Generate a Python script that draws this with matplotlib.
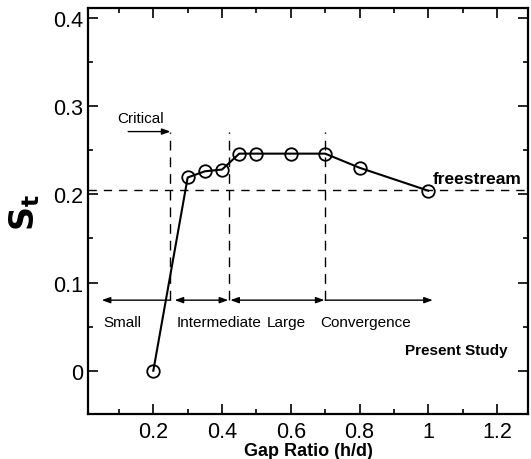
import matplotlib
matplotlib.use("Agg")
import matplotlib.pyplot as plt
from matplotlib.ticker import MultipleLocator

plt.rcParams['font.family'] = ['Liberation Sans', 'DejaVu Sans']

gap_ratio = [0.2, 0.3, 0.35, 0.4, 0.45, 0.5, 0.6, 0.7, 0.8, 1.0]
strouhal = [0.0, 0.219, 0.226, 0.228, 0.246, 0.246, 0.246, 0.246, 0.230, 0.204]
freestream = 0.205
regime_bounds = [0.25, 0.42, 0.70]
regime_names = ["Small", "Intermediate", "Large", "Convergence"]
regime_label_x = [0.054, 0.268, 0.53, 0.685]
x_ticks = [0.2, 0.4, 0.6, 0.8, 1.0, 1.2]
x_tick_labels = ["0.2", "0.4", "0.6", "0.8", "1", "1.2"]
y_ticks = [0.0, 0.1, 0.2, 0.3, 0.4]
y_tick_labels = ["0", "0.1", "0.2", "0.3", "0.4"]

fig = plt.figure(figsize=(5.31, 4.60), dpi=100)
ax = fig.add_axes([0.1657, 0.0978, 0.8287, 0.8826])

ax.set_xlim(0.01, 1.29)
ax.set_ylim(-0.049, 0.411)

# freestream line
ax.axhline(freestream, color='black', lw=1.0, ls=(0, (6, 5)))

# regime boundaries
for xb in regime_bounds:
    ax.plot([xb, xb], [0.08, 0.271], color='black', lw=1.0, ls=(0, (7, 5)))

# data
ax.plot(gap_ratio, strouhal, color='black', lw=1.5, marker='o', ms=9,
        mfc='none', mec='black', mew=1.3, zorder=5)

# regime arrows
ay = 0.08
ap = dict(lw=1.0, color='black', shrinkA=0, shrinkB=0)
ax.annotate('', xy=(0.05, ay), xytext=(regime_bounds[0], ay),
            arrowprops=dict(arrowstyle='-|>,head_length=0.5,head_width=0.18', **ap))
ax.annotate('', xy=(0.262, ay), xytext=(0.418, ay),
            arrowprops=dict(arrowstyle='<|-|>,head_length=0.5,head_width=0.18', **ap))
ax.annotate('', xy=(0.424, ay), xytext=(0.698, ay),
            arrowprops=dict(arrowstyle='<|-|>,head_length=0.5,head_width=0.18', **ap))
ax.annotate('', xy=(1.013, ay), xytext=(0.70, ay),
            arrowprops=dict(arrowstyle='-|>,head_length=0.5,head_width=0.18', **ap))

for name, xl in zip(regime_names, regime_label_x):
    ax.text(xl, 0.055, name, fontsize=11, ha='left', va='center')

# critical arrow
ax.annotate('', xy=(regime_bounds[0], 0.271), xytext=(0.127, 0.271),
            arrowprops=dict(arrowstyle='-|>,head_length=0.5,head_width=0.18', **ap))
ax.text(0.094, 0.286, "Critical", fontsize=11, ha='left', va='center')

ax.text(1.013, 0.2175, "freestream", fontsize=12.5, fontweight='bold',
        ha='left', va='center')
ax.text(1.23, 0.024, "Present Study", fontsize=11, fontweight='bold',
        ha='right', va='center')

# ticks
ax.set_xticks(x_ticks)
ax.set_xticklabels(x_tick_labels)
ax.set_yticks(y_ticks)
ax.set_yticklabels(y_tick_labels)
ax.xaxis.set_minor_locator(MultipleLocator(0.1))
ax.yaxis.set_minor_locator(MultipleLocator(0.05))
ax.tick_params(which='both', direction='in', top=True, right=True, labelsize=15.5, width=1.2)
ax.tick_params(which='major', length=7)
ax.tick_params(which='minor', length=3.5)
ax.tick_params(axis='x', pad=5)
for s in ax.spines.values():
    s.set_linewidth(1.6)

ax.set_xlabel("Gap Ratio (h/d)", fontsize=13, fontweight='bold', labelpad=0)
ax.set_ylabel(r'$\mathbf{S_t}$', fontsize=24, rotation=90)
ax.yaxis.set_label_coords(-0.105, 0.5)

fig.savefig("out.png", dpi=100)
